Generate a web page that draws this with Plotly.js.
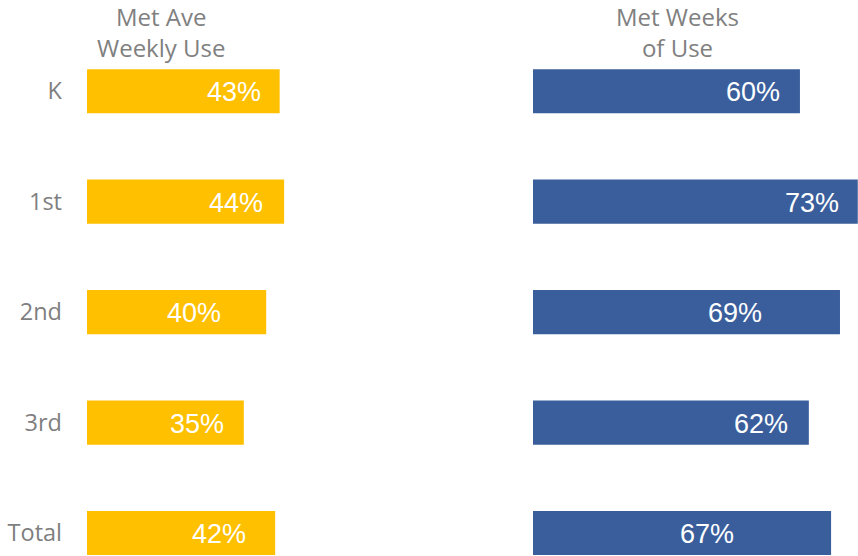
<!DOCTYPE html>
<html>
<head>
<meta charset="utf-8">
<script src="https://cdn.plot.ly/plotly-3.0.1.min.js"></script>
<style>html,body{margin:0;padding:0;background:#fff;}#chart{width:858px;height:556px;}</style>
</head>
<body>
<div id="chart"></div>
<script>
// Data
const grades = ["K", "1st", "2nd", "3rd", "Total"];
const metAveWeeklyUse = [0.43, 0.44, 0.40, 0.35, 0.42];
const metWeeksOfUse = [0.60, 0.73, 0.69, 0.62, 0.67];
const panelTitles = ["Met Ave<br>Weekly Use", "Met Weeks<br>of Use"];

// Style: label offsets (px, leftward from bar end) mimicking the original placement
const leftLabelNudge = [46, 48, 72, 47, 56];
const rightLabelNudge = [47, 46, 105, 48, 124];

const pct = v => Math.round(v * 100) + "%";
const W = 858;

const traces = [
  {type: "bar", orientation: "h", y: grades, x: metAveWeeklyUse, xaxis: "x", yaxis: "y",
   marker: {color: "#FFC000"}, hoverinfo: "skip", textposition: "none"},
  {type: "bar", orientation: "h", y: grades, x: metWeeksOfUse, xaxis: "x2", yaxis: "y",
   marker: {color: "#3A5E9C"}, hoverinfo: "skip", textposition: "none"}
];

const labelFont = {family: "Liberation Sans, Arial, sans-serif", size: 27, color: "#ffffff"};
const annotations = [];
grades.forEach((g, i) => {
  annotations.push({x: metAveWeeklyUse[i], y: g, xref: "x", yref: "y", text: pct(metAveWeeklyUse[i]),
    showarrow: false, xanchor: "center", yanchor: "middle", xshift: -leftLabelNudge[i], yshift: -1, font: labelFont});
  annotations.push({x: metWeeksOfUse[i], y: g, xref: "x2", yref: "y", text: pct(metWeeksOfUse[i]),
    showarrow: false, xanchor: "center", yanchor: "middle", xshift: -rightLabelNudge[i], yshift: -1, font: labelFont});
});
const titleFont = {family: "Open Sans, sans-serif", size: 24, color: "#808080"};
annotations.push({xref: "paper", yref: "paper", x: 161 / W, y: 1, xanchor: "center", yanchor: "top", yshift: 38,
  text: panelTitles[0], showarrow: false, font: titleFont, align: "center"});
annotations.push({xref: "paper", yref: "paper", x: 677 / W, y: 1, xanchor: "center", yanchor: "top", yshift: 38,
  text: panelTitles[1], showarrow: false, font: titleFont, align: "center"});

const layout = {
  width: 858, height: 556,
  margin: {l: 0, r: 0, t: 36, b: 0, pad: 0},
  paper_bgcolor: "#ffffff", plot_bgcolor: "#ffffff",
  showlegend: false,
  bargap: 0.6,
  xaxis: {domain: [87 / W, (87 + 325) / W], range: [0, 0.7254], visible: false, fixedrange: true},
  xaxis2: {domain: [533 / W, 1], range: [0, 0.7305], visible: false, fixedrange: true},
  yaxis: {anchor: "x", type: "category", range: [4.208, -0.5], showgrid: false, zeroline: false,
    showline: false, ticks: "", ticklabelstandoff: 24,
    tickfont: {family: "Open Sans, sans-serif", size: 23.5, color: "#7F7F7F"}},
  annotations: annotations
};

Plotly.newPlot("chart", traces, layout, {displayModeBar: false, staticPlot: true});
</script>
</body>
</html>
